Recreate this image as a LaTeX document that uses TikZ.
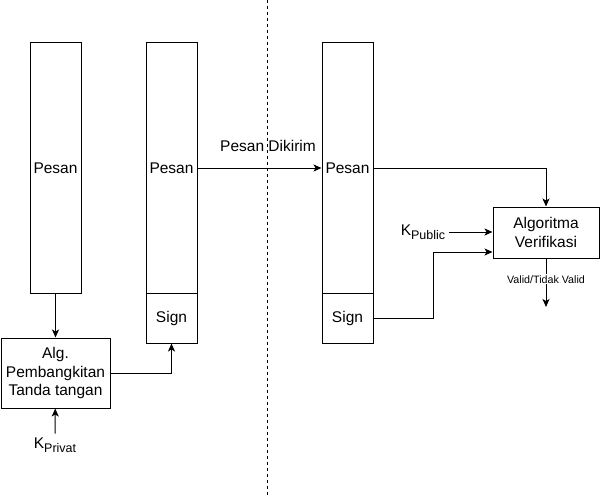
\documentclass[tikz,border=0pt]{standalone}
\usepackage{fontspec}
\setmainfont{Liberation Sans}
\usetikzlibrary{arrows.meta}

\newcommand{\subtext}[1]{\raisebox{-4.5pt}{\fontsize{12.5}{14}\selectfont #1}}

\begin{document}
\begin{tikzpicture}[x=1pt,y=-1pt,line width=1pt,
    font=\fontsize{15.5}{18.5}\selectfont,
    >={Stealth[length=8pt,width=7pt,inset=2pt]},
    box/.style={draw,rectangle,inner sep=0pt,align=center}]
\useasboundingbox (0,0) rectangle (603,495);

\node[box,minimum width=51pt,minimum height=250pt] (1) at (55.5,168) {Pesan};

\node[box,minimum width=109pt,minimum height=70pt] (2) at (55.5,373)
{Alg.\\Pembangkitan\\Tanda tangan};

\node (3) at (55,445) {K\subtext{Privat}};

\node[box,minimum width=51pt,minimum height=250pt] (4) at (171.5,168) {Pesan};

\node[box,minimum width=51pt,minimum height=50pt] (5) at (171.5,318) {Sign};

\node (6) at (268,146) {Pesan Dikirim};

\node[box,minimum width=51pt,minimum height=250pt] (7) at (347.5,168) {Pesan};

\node[box,minimum width=51pt,minimum height=50pt] (8) at (347.5,318) {Sign};

\node[box,minimum width=106pt,minimum height=51pt] (9) at (546,232.5)
{Algoritma\\Verifikasi};

\node[anchor=east] (10) at (449,232) {K\subtext{Public}};

\coordinate (11) at (433,252);
\coordinate (12) at (546,307);
\coordinate (13) at (267,0);
\coordinate (14) at (267,495);

\draw[dash pattern=on 3pt off 3pt] (13) -- (14);

\draw[->] (1) -- (2);

\draw[->] (3) -- (2);

\draw[->] (2.east) -| (5.south);

\draw[->] (4.east) -- (7.west);

\draw[->] (7.east) -| (9.north);

\draw[->] (10) -- (9.west |- 10);

\draw[->] (8.east) -| (11) -- (9.west |- 11);

\draw[->] (9.south) -- node[pos=0.43,fill=white,inner sep=1pt,
    font=\fontsize{10.7}{12}\selectfont] {Valid/Tidak Valid} (12);
\end{tikzpicture}
\end{document}
